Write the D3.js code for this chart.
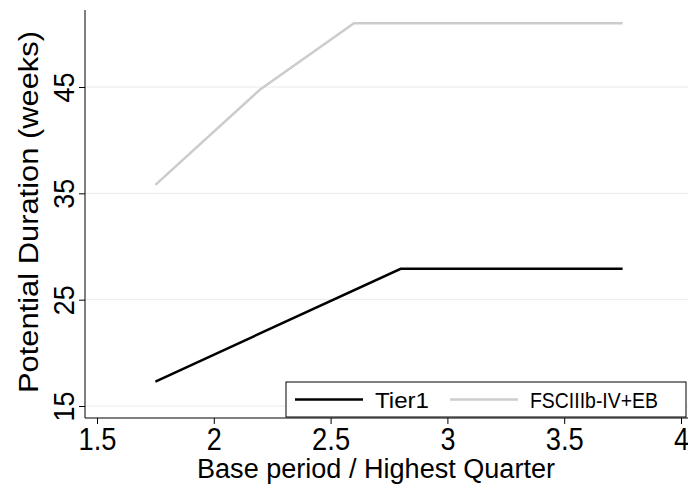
<!DOCTYPE html>
<html>
<head>
<meta charset="utf-8">
<script src="https://d3js.org/d3.v7.min.js"></script>
<style>
body { margin: 0; background: #fff; }
text { font-family: "Liberation Sans", Arial, sans-serif; }
</style>
</head>
<body>
<div id="chart"></div>
<script>
// series values
var tier1X = [1.75, 2.8, 3.75];
var tier1Y = [17.3, 27.9, 27.9];
var fscX = [1.75, 2.2, 2.6, 3.75];
var fscY = [35.8, 44.8, 51.0, 51.0];
var xTicks = [1.5, 2, 2.5, 3, 3.5, 4];
var yTicks = [15, 25, 35, 45];
var seriesNames = ["Tier1", "FSCIIIb-IV+EB"];
var seriesColors = ["#000000", "#cccccc"];

var width = 688, height = 495;
var svg = d3.select("#chart").append("svg")
  .attr("width", width).attr("height", height);

var x = d3.scaleLinear().domain([1.5, 4]).range([97, 681]);
var y = d3.scaleLinear().domain([15, 45]).range([406, 87]);
var axisY = 418, axisX = 85;

// gridlines
svg.append("g").selectAll("line")
  .data(yTicks).enter().append("line")
  .attr("x1", axisX).attr("x2", 688)
  .attr("y1", function(d) { return y(d); })
  .attr("y2", function(d) { return y(d); })
  .attr("stroke", "#eaeaea").attr("stroke-width", 1);

// x axis
var xa = svg.append("g")
  .attr("transform", "translate(0," + axisY + ")")
  .call(d3.axisBottom(x).tickValues(xTicks).tickSize(6).tickSizeOuter(0)
    .tickFormat(d3.format("")));
xa.select(".domain").attr("d", "M" + axisX + ",0H688");
xa.selectAll(".tick text").attr("font-size", 31)
  .attr("textLength", function(d) { return String(d).length > 1 ? 38 : 15; })
  .attr("lengthAdjust", "spacingAndGlyphs")
  .attr("y", 9).attr("dy", "0.75em").attr("fill", "#000");

// y axis
var ya = svg.append("g")
  .attr("transform", "translate(" + axisX + ",0)")
  .call(d3.axisLeft(y).tickValues(yTicks).tickSize(6).tickSizeOuter(0));
ya.select(".domain").attr("d", "M0,10V" + axisY);
ya.selectAll(".tick text")
  .attr("font-size", 30).attr("fill", "#000")
  .attr("textLength", 30).attr("lengthAdjust", "spacingAndGlyphs")
  .attr("x", 0).attr("dy", 0)
  .attr("text-anchor", "middle")
  .attr("transform", "translate(-11,0) rotate(-90)");

// axis titles
svg.append("text").attr("x", 376).attr("y", 478)
  .attr("text-anchor", "middle").attr("font-size", 27)
  .attr("textLength", 358).attr("lengthAdjust", "spacingAndGlyphs")
  .text("Base period / Highest Quarter");
svg.append("text")
  .attr("transform", "translate(38,212) rotate(-90)")
  .attr("text-anchor", "middle").attr("font-size", 27)
  .attr("textLength", 362).attr("lengthAdjust", "spacingAndGlyphs")
  .text("Potential Duration (weeks)");

var line = d3.line()
  .x(function(d) { return x(d[0]); })
  .y(function(d) { return y(d[1]); });

svg.append("path")
  .datum(fscX.map(function(v, i) { return [v, fscY[i]]; }))
  .attr("d", line).attr("fill", "none")
  .attr("stroke", seriesColors[1]).attr("stroke-width", 2.5);
svg.append("path")
  .datum(tier1X.map(function(v, i) { return [v, tier1Y[i]]; }))
  .attr("d", line).attr("fill", "none")
  .attr("stroke", seriesColors[0]).attr("stroke-width", 2.5);

// legend
var lg = svg.append("g");
lg.append("rect").attr("x", 286).attr("y", 382).attr("width", 400).attr("height", 35)
  .attr("fill", "#fff").attr("stroke", "#000").attr("stroke-width", 1);
var lx = [295, 450];
seriesNames.forEach(function(n, i) {
  lg.append("line").attr("x1", lx[i]).attr("x2", lx[i] + 68)
    .attr("y1", 399.5).attr("y2", 399.5)
    .attr("stroke", seriesColors[i]).attr("stroke-width", 2.5);
  lg.append("text").attr("x", lx[i] + 80).attr("y", 408)
    .attr("font-size", 22).attr("textLength", i === 0 ? 54 : 128)
    .attr("lengthAdjust", "spacingAndGlyphs").text(n);
});
</script>
</body>
</html>
